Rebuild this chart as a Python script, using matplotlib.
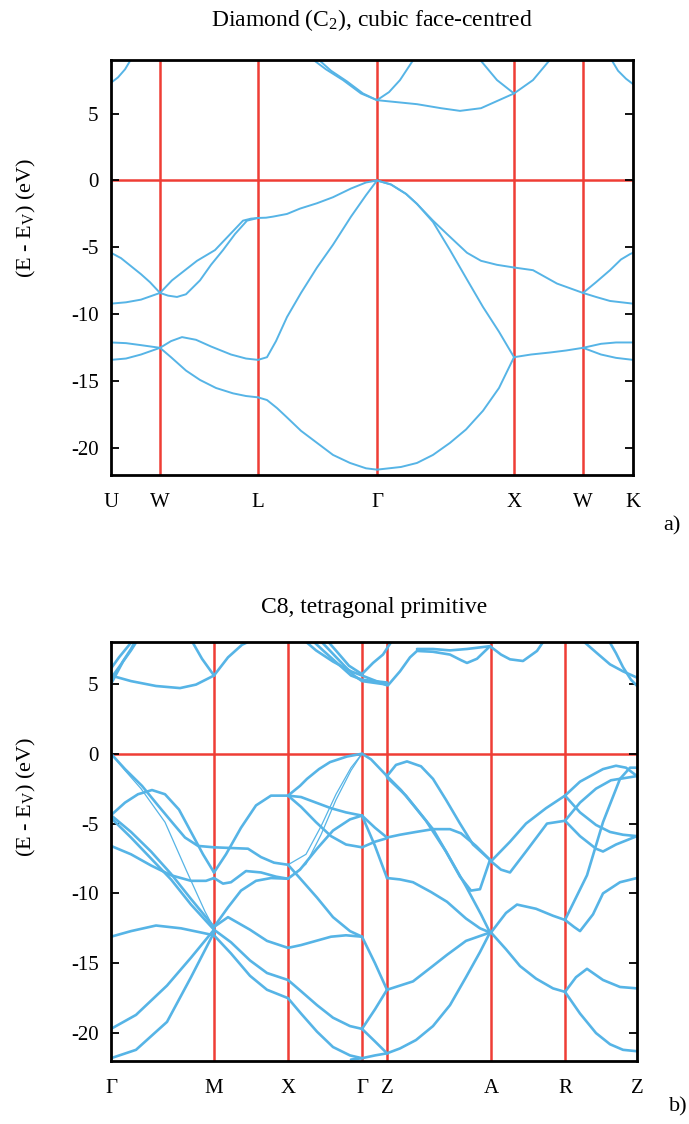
import matplotlib
matplotlib.use("Agg")
import matplotlib.pyplot as plt

plt.rcParams['font.family'] = ['Liberation Serif', 'DejaVu Serif']
plt.rcParams['mathtext.fontset'] = 'custom'
plt.rcParams['mathtext.rm'] = 'Liberation Serif'
plt.rcParams['mathtext.it'] = 'Liberation Serif'
plt.rcParams['mathtext.default'] = 'regular'
plt.rcParams['axes.unicode_minus'] = False

# ---------------- panel a: diamond (path coordinate, arb. units) ----------------
dia_kticks = [0, 49, 147, 266, 403, 472, 522]
dia_klabels = ['U', 'W', 'L', 'Γ', 'X', 'W', 'K']
dia_ylim = (-22, 9)

dia_conduction = [
    [(0, 7.3), (7, 7.7), (14, 8.3), (22, 9.3)],
    [(199, 9.2), (215, 8.3), (232, 7.5), (250, 6.5), (266, 6.0)],
    [(205, 9.2), (220, 8.2), (236, 7.4), (252, 6.5), (266, 6.0)],
    [(266, 6.0), (278, 6.6), (289, 7.5), (304, 9.2)],
    [(266, 6.0), (306, 5.7), (330, 5.4), (349, 5.2), (370, 5.4), (382, 5.8), (403, 6.5)],
    [(367, 9.2), (386, 7.5), (403, 6.5)],
    [(403, 6.5), (422, 7.5), (441, 9.2)],
    [(499, 9.2), (507, 8.2), (515, 7.6), (522, 7.2)],
]
dia_valence_upper = [
    [(147, -2.8), (155, -2.78), (162, -2.7), (176, -2.5), (189, -2.1), (206, -1.7), (222, -1.25),
     (240, -0.6), (255, -0.15), (266, 0.0)],
    [(49, -8.4), (61, -7.46), (86, -6.0), (104, -5.2), (118, -4.1), (132, -3.0), (140, -2.85), (147, -2.8)],
    [(49, -8.4), (57, -8.6), (66, -8.7), (75, -8.5), (89, -7.46), (100, -6.3), (112, -5.2),
     (124, -4.0), (136, -3.0), (147, -2.8)],
    [(0, -5.4), (10, -5.8), (20, -6.4), (30, -7.0), (39, -7.6), (49, -8.4)],
    [(0, -9.2), (15, -9.1), (30, -8.9), (49, -8.4)],
    [(266, 0.0), (280, -0.3), (295, -1.0), (306, -1.75), (322, -3.1), (339, -5.2), (356, -7.4),
     (372, -9.45), (388, -11.3), (403, -13.2)],
    [(266, 0.0), (280, -0.3), (295, -1.0), (306, -1.75), (322, -3.0), (336, -4.0), (356, -5.4),
     (370, -6.0), (386, -6.3), (403, -6.5)],
    [(403, -6.5), (422, -6.7), (446, -7.7), (472, -8.4)],
    [(472, -8.4), (485, -7.6), (499, -6.7), (510, -5.9), (519, -5.5), (522, -5.4)],
    [(472, -8.4), (485, -8.7), (499, -9.0), (522, -9.2)],
]
dia_valence_lower = [
    [(0, -12.1), (15, -12.15), (30, -12.3), (49, -12.5)],
    [(0, -13.4), (15, -13.3), (30, -13.0), (49, -12.5)],
    [(49, -12.5), (60, -12.0), (71, -11.7), (85, -11.9), (100, -12.4), (120, -13.0), (135, -13.3), (147, -13.4)],
    [(49, -12.5), (60, -13.2), (75, -14.2), (89, -14.9), (105, -15.5), (122, -15.9), (135, -16.1), (147, -16.2)],
    [(147, -13.4), (156, -13.2), (165, -12.0), (176, -10.2), (190, -8.4), (206, -6.5), (222, -4.8),
     (240, -2.7), (255, -1.1), (266, 0.0)],
    [(147, -16.2), (156, -16.4), (166, -17.0), (176, -17.7), (190, -18.7), (206, -19.6), (222, -20.5),
     (239, -21.1), (255, -21.5), (266, -21.6)],
    [(266, -21.6), (290, -21.4), (306, -21.1), (322, -20.5), (339, -19.6), (355, -18.6), (372, -17.2),
     (388, -15.5), (403, -13.2)],
    [(403, -13.2), (420, -13.0), (439, -12.85), (455, -12.7), (472, -12.5)],
    [(472, -12.5), (490, -12.2), (505, -12.1), (522, -12.1)],
    [(472, -12.5), (490, -13.0), (505, -13.25), (522, -13.4)],
]

# ---------------- panel b: C8 tetragonal ----------------
c8_kticks = [0, 103, 177, 251, 276, 380, 454, 526]
c8_klabels = ['Γ', 'M', 'X', 'Γ', 'Z', 'A', 'R', 'Z']
c8_ylim = (-22, 8)

c8_conduction = [
    [(0, 5.6), (20, 5.2), (45, 4.85), (69, 4.7), (85, 4.95), (103, 5.6)],
    [(0, 5.0), (6, 5.8), (12, 6.6), (20, 7.4), (28, 8.3)],
    [(0, 6.1), (8, 6.9), (16, 7.6), (24, 8.3)],
    [(0, 5.4), (10, 6.4), (20, 7.5), (26, 8.3)],
    [(79, 8.3), (91, 6.8), (103, 5.6)],
    [(103, 5.6), (117, 6.9), (131, 7.8), (146, 8.3)],
    [(192, 8.2), (205, 7.4), (222, 6.6), (240, 5.9), (251, 5.6), (276, 4.9)],
    [(200, 8.2), (212, 7.4), (226, 6.5), (240, 5.6), (251, 5.3), (276, 5.1)],
    [(208, 8.2), (220, 7.3), (232, 6.4), (243, 5.6), (251, 5.2), (276, 4.95)],
    [(215, 8.2), (226, 7.3), (238, 6.3), (251, 5.7), (262, 6.5), (272, 7.1), (282, 8.2)],
    [(277, 4.9), (289, 5.9), (299, 6.9), (306, 7.36), (322, 7.3), (339, 7.1), (350, 6.7),
     (356, 6.5), (366, 6.8), (379, 7.7)],
    [(306, 7.5), (322, 7.5), (339, 7.4), (356, 7.5), (379, 7.7)],
    [(379, 7.7), (390, 7.1), (399, 6.76), (412, 6.64), (426, 7.36), (434, 8.2)],
    [(470, 8.2), (486, 7.2), (499, 6.4), (512, 5.9), (526, 5.45)],
    [(497, 8.2), (505, 7.2), (512, 6.2), (520, 5.3), (526, 4.86)],
]
c8_valence = [
    # Gamma - M
    [(0, 0.0), (14, -1.1), (31, -2.3), (47, -3.7), (61, -4.9), (74, -6.0), (87, -6.6), (103, -6.7)],
    [(0, -4.4), (14, -3.5), (27, -2.9), (41, -2.6), (54, -2.9), (68, -4.0), (80, -5.6), (92, -7.2), (103, -8.5)],
    [(0, -4.4), (20, -5.6), (40, -7.0), (60, -8.6), (80, -10.4), (95, -11.7), (103, -12.4)],
    [(0, -4.6), (20, -6.0), (40, -7.5), (60, -9.0), (80, -10.8), (103, -12.6)],
    [(0, -6.6), (20, -7.2), (40, -8.0), (60, -8.7), (80, -9.1), (95, -9.1), (103, -8.9)],
    [(0, -13.1), (20, -12.7), (45, -12.3), (70, -12.5), (90, -12.8), (103, -13.0)],
    [(0, -19.7), (25, -18.7), (56, -16.6), (80, -14.6), (103, -12.6)],
    [(0, -21.8), (25, -21.2), (56, -19.2), (80, -16.0), (103, -12.8)],
    # M - X
    [(103, -6.7), (120, -6.75), (137, -6.8), (150, -7.4), (163, -7.8), (177, -7.95)],
    [(103, -8.5), (115, -7.2), (130, -5.3), (145, -3.7), (160, -3.0), (177, -3.0)],
    [(103, -8.9), (112, -9.3), (120, -9.2), (135, -8.4), (150, -8.5), (165, -8.8), (177, -8.95)],
    [(103, -12.4), (117, -11.7), (139, -12.6), (156, -13.4), (177, -13.9)],
    [(103, -12.6), (120, -13.5), (139, -14.8), (156, -15.7), (177, -16.2)],
    [(103, -13.0), (120, -14.3), (139, -15.9), (156, -16.9), (177, -17.5)],
    [(103, -12.4), (117, -11.0), (130, -9.8), (145, -9.1), (160, -8.9), (177, -8.95)],
    # X - Gamma
    [(177, -3.0), (189, -2.3), (196, -1.8), (208, -1.1), (219, -0.6), (236, -0.2), (251, 0.0)],
    [(177, -3.0), (190, -3.1), (205, -3.5), (220, -3.9), (235, -4.2), (251, -4.43)],
    [(177, -3.0), (190, -3.8), (205, -4.9), (220, -5.9), (235, -6.5), (251, -6.7)],
    [(177, -7.95), (190, -9.0), (206, -10.3), (222, -11.7), (239, -12.7), (251, -13.1)],
    [(177, -8.95), (189, -8.3), (206, -6.8), (222, -5.5), (239, -4.7), (251, -4.43)],
    [(177, -13.9), (190, -13.7), (205, -13.4), (220, -13.1), (235, -13.0), (251, -13.1)],
    [(177, -16.2), (190, -17.0), (206, -18.0), (222, -18.9), (239, -19.5), (251, -19.7)],
    [(177, -17.5), (190, -18.6), (206, -19.9), (222, -21.0), (239, -21.6), (251, -21.8)],
    # Gamma - Z
    [(251, 0.0), (260, -0.4), (268, -1.0), (276, -1.6)],
    [(251, -4.43), (264, -6.6), (276, -8.9)],
    [(251, -6.7), (264, -6.3), (276, -6.05)],
    [(251, -4.43), (264, -5.3), (276, -6.0)],
    [(251, -13.1), (264, -15.0), (276, -16.9)],
    [(251, -19.7), (264, -18.3), (276, -16.9)],
    [(251, -19.7), (264, -20.6), (276, -21.45)],
    [(240, -21.9), (251, -21.8), (264, -21.6), (276, -21.45)],
    # Z - A
    [(276, -6.0), (289, -5.8), (305, -5.6), (322, -5.4), (339, -5.4), (350, -5.7), (365, -6.6), (379, -7.6)],
    [(276, -8.9), (289, -9.0), (302, -9.2), (320, -9.9), (336, -10.6), (355, -11.8), (369, -12.5), (379, -12.8)],
    [(276, -16.9), (289, -16.6), (302, -16.3), (320, -15.3), (336, -14.4), (355, -13.4), (379, -12.8)],
    [(276, -21.45), (289, -21.1), (305, -20.5), (322, -19.5), (339, -18.0), (355, -16.0), (369, -14.2), (379, -12.8)],
    [(276, -1.6), (285, -0.8), (296, -0.55), (310, -0.9), (322, -1.8), (335, -3.3), (349, -5.0), (362, -6.5), (379, -7.6)],
    [(276, -1.6), (290, -2.6), (305, -3.9), (322, -5.4), (335, -7.0), (349, -8.8), (360, -9.8), (369, -9.7), (379, -7.6)],
    [(276, -1.7), (295, -3.0), (315, -4.8), (335, -7.0), (355, -9.5), (370, -11.5), (379, -12.8)],
    # A - R
    [(380, -7.7), (399, -6.3), (415, -5.0), (435, -3.9), (454, -3.0)],
    [(380, -7.7), (390, -8.3), (399, -8.5), (415, -7.0), (436, -5.0), (454, -4.8)],
    [(380, -12.8), (395, -11.4), (406, -10.8), (425, -11.1), (442, -11.6), (454, -11.9)],
    [(380, -12.8), (395, -14.0), (409, -15.2), (425, -16.1), (442, -16.8), (454, -17.05)],
    # R - Z
    [(454, -3.0), (469, -2.0), (492, -1.1), (505, -0.86), (515, -1.0), (526, -1.6)],
    [(454, -4.8), (469, -3.5), (485, -2.5), (500, -1.9), (526, -1.6)],
    [(454, -3.0), (469, -4.2), (485, -5.1), (499, -5.6), (512, -5.8), (526, -5.9)],
    [(454, -4.8), (469, -5.9), (485, -6.8), (492, -7.0), (505, -6.5), (526, -5.9)],
    [(454, -11.9), (463, -12.4), (469, -12.7), (482, -11.5), (492, -10.0), (509, -9.2), (526, -8.9)],
    [(454, -11.9), (476, -8.7), (492, -4.9), (509, -1.8), (519, -1.0), (526, -1.0)],
    [(454, -17.05), (469, -18.6), (485, -20.0), (499, -20.8), (512, -21.2), (526, -21.3)],
    [(454, -17.05), (465, -16.0), (476, -15.4), (492, -16.2), (509, -16.7), (526, -16.8)],
]
c8_thin = [
    [(0, 0.0), (14, -1.2), (30, -2.5), (54, -4.9), (75, -8.3), (94, -11.3), (103, -12.5)],
    [(251, 0.0), (240, -1.0), (225, -2.9), (210, -5.2), (195, -7.2), (177, -7.95)],
    [(251, 0.0), (240, -1.2), (225, -3.3), (210, -5.8), (195, -7.9), (177, -8.95)],
]

BLUE = '#56b4e6'
RED = '#ef3d35'

fig = plt.figure(figsize=(6.89, 11.24), dpi=100)
W, H = 689.0, 1124.0


def make_axes(left, top, right, bottom):
    return fig.add_axes([left / W, 1 - bottom / H, (right - left) / W, (bottom - top) / H])


def style(ax, kticks, klabels, ylim):
    ax.set_xlim(kticks[0], kticks[-1])
    ax.set_ylim(*ylim)
    for k in kticks[1:-1]:
        ax.axvline(k, color=RED, lw=1.8, zorder=1)
    ax.axhline(0, color=RED, lw=1.8, zorder=1)
    ax.set_xticks(kticks)
    ax.set_xticklabels(klabels)
    ax.set_yticks([-20, -15, -10, -5, 0, 5])
    ax.tick_params(axis='x', length=0, pad=13, labelsize=15)
    ax.tick_params(axis='y', direction='in', length=6, width=1.3, right=True, labelsize=15, pad=9)
    for s in ax.spines.values():
        s.set_linewidth(2.0)
        s.set_zorder(5)
    ax.set_ylabel('(E - E$_V$) (eV)', fontsize=16)


def draw(ax, bands, lw, zorder=3):
    for b in bands:
        ks = [p[0] for p in b]
        es = [p[1] for p in b]
        ax.plot(ks, es, color=BLUE, lw=lw, solid_capstyle='round', solid_joinstyle='round', zorder=zorder)


ax1 = make_axes(111, 60, 633, 475)
style(ax1, dia_kticks, dia_klabels, dia_ylim)
draw(ax1, dia_conduction, 1.4)
draw(ax1, dia_valence_upper, 1.4)
draw(ax1, dia_valence_lower, 1.4)
ax1.yaxis.set_label_coords(-0.14, 0.62)

ax2 = make_axes(111, 642, 637, 1061)
style(ax2, c8_kticks, c8_klabels, c8_ylim)
draw(ax2, c8_conduction, 1.9)
draw(ax2, c8_valence, 1.9)
draw(ax2, c8_thin, 0.9)
ax2.yaxis.set_label_coords(-0.139, 0.63)

fig.text(372 / W, 1 - 20 / H, 'Diamond (C$_2$), cubic face-centred', ha='center', va='center', fontsize=17)
fig.text(374 / W, 1 - 607 / H, 'C8, tetragonal primitive', ha='center', va='center', fontsize=17)
fig.text(672 / W, 1 - 526 / H, 'a)', ha='center', va='center', fontsize=16)
fig.text(688 / W, 1 - 1107 / H, 'b)', ha='right', va='center', fontsize=16)

fig.savefig('out.png', dpi=100)
